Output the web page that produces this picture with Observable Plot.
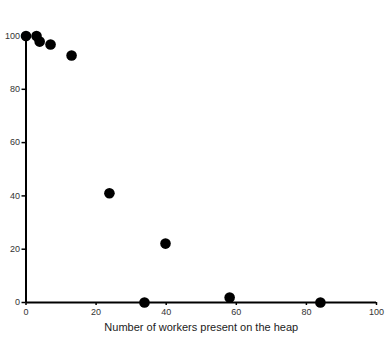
<!DOCTYPE html>
<html>
<head>
<meta charset="utf-8">
<script src="https://cdn.jsdelivr.net/npm/d3@7"></script>
<script src="https://cdn.jsdelivr.net/npm/@observablehq/plot@0.6"></script>
<style>
  html, body { margin: 0; padding: 0; background: #fff; }
  svg { font-family: "Liberation Sans", Arial, sans-serif; display: block; }
</style>
</head>
<body>
<div id="chart"></div>
<script>
const workers = [0, 3, 3.9, 7, 13, 23.8, 39.8, 33.8, 58.1, 84];
const percent = [100, 100, 97.9, 96.8, 92.7, 41, 22.1, 0, 1.9, 0];
const xTicks = [0, 20, 40, 60, 80, 100];
const yTicks = [0, 20, 40, 60, 80, 100];
const xLabel = "Number of workers present on the heap";

const data = workers.map((w, i) => ({x: w, y: percent[i]}));

const chart = Plot.plot({
  width: 387,
  height: 343,
  marginLeft: 25.5,
  marginRight: 11,
  marginTop: 35.5,
  marginBottom: 41,
  style: {fontFamily: '"Liberation Sans", Arial, sans-serif', fontSize: "9px", color: "#000", background: "#fff"},
  x: {domain: [0, 100]},
  y: {domain: [0, 100]},
  marks: [
    Plot.axisX({ticks: xTicks, tickSize: 3, tickPadding: 3, tickFormat: d => d, fill: "#333", label: null, strokeWidth: 1.5}),
    Plot.axisY({ticks: yTicks, tickSize: 4, tickPadding: 2, tickFormat: d => d, fill: "#333", label: null, strokeWidth: 1.5}),
    Plot.text([xLabel], {frameAnchor: "bottom", dy: 28, fontSize: 11, fill: "#222"}),
    Plot.ruleX([0], {stroke: "#000", strokeWidth: 2}),
    Plot.ruleY([0], {stroke: "#000", strokeWidth: 2}),
    Plot.dot(data, {x: "x", y: "y", r: 5.3, fill: "#000", stroke: "none"})
  ]
});
document.getElementById("chart").appendChild(chart);
</script>
</body>
</html>
